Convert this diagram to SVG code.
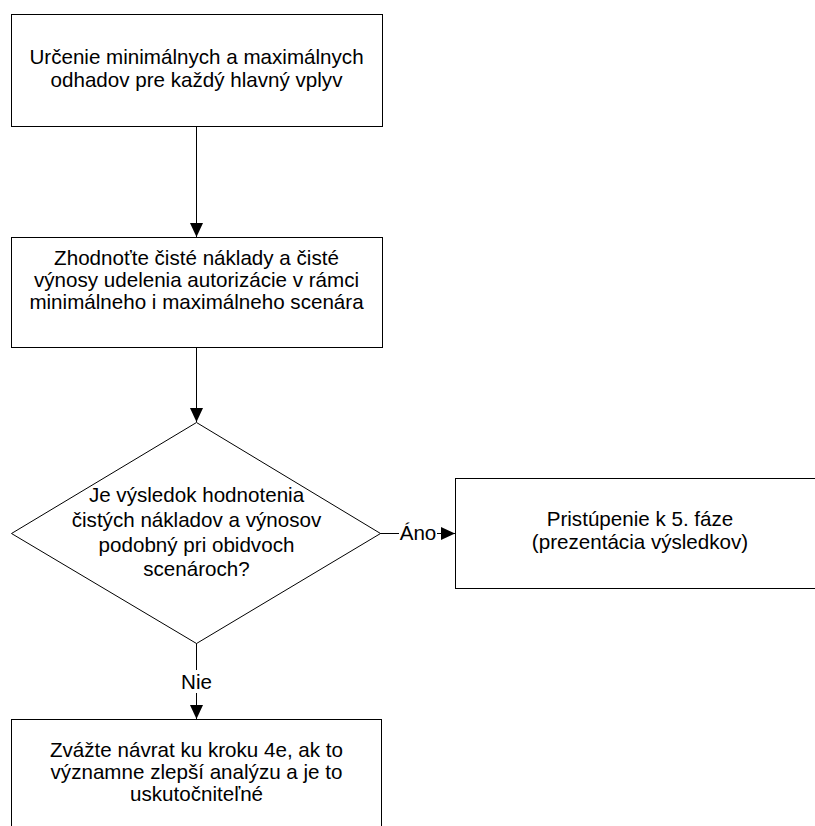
<svg xmlns="http://www.w3.org/2000/svg" width="815" height="826" viewBox="0 0 815 826">
  <style>
    .shape { fill: #ffffff; stroke: #000000; stroke-width: 1; }
    .edge { fill: none; stroke: #000000; stroke-width: 1; }
    text { font-family: "Liberation Sans", Arial, sans-serif; font-size: 20.6px; fill: #000000; text-anchor: middle; }
  </style>
  <defs>
    <marker id="arrow" viewBox="0 0 14 14" refX="14" refY="7" markerWidth="14" markerHeight="14" markerUnits="userSpaceOnUse" orient="auto">
      <path d="M0,0.5 L14,7 L0,13.5 Z" fill="#000000"/>
    </marker>
  </defs>
  <rect width="815" height="826" fill="#ffffff"/>

  <!-- connectors -->
  <g id="connectors">
    <line class="edge" x1="196.5" y1="126" x2="196.5" y2="237" marker-end="url(#arrow)"/>
    <line class="edge" x1="196.5" y1="347" x2="196.5" y2="422" marker-end="url(#arrow)"/>
    <line class="edge" x1="380" y1="533.5" x2="399" y2="533.5"/>
    <line class="edge" x1="437" y1="533.5" x2="455" y2="533.5" marker-end="url(#arrow)"/>
    <line class="edge" x1="196.5" y1="643" x2="196.5" y2="670"/>
    <line class="edge" x1="196.5" y1="693" x2="196.5" y2="719" marker-end="url(#arrow)"/>
    <text x="418" y="540">Áno</text>
    <text x="196.5" y="689">Nie</text>
  </g>

  <!-- step: estimates -->
  <g id="node-estimates">
    <rect class="shape" x="11.5" y="14.5" width="371" height="112"/>
    <text x="196.5" y="64">Určenie minimálnych a maximálnych</text>
    <text x="196.5" y="87">odhadov pre každý hlavný vplyv</text>
  </g>

  <!-- step: evaluate -->
  <g id="node-evaluate">
    <rect class="shape" x="11.5" y="237.5" width="371" height="110"/>
    <text x="196.5" y="265">Zhodnoťte čisté náklady a čisté</text>
    <text x="196.5" y="287">výnosy udelenia autorizácie v rámci</text>
    <text x="196.5" y="309">minimálneho i maximálneho scenára</text>
  </g>

  <!-- decision -->
  <g id="node-decision">
    <polygon class="shape" points="196.5,422.5 380.5,533.5 196.5,643.5 11.5,533.5"/>
    <text x="196.5" y="502">Je výsledok hodnotenia</text>
    <text x="196.5" y="527">čistých nákladov a výnosov</text>
    <text x="196.5" y="552">podobný pri obidvoch</text>
    <text x="196.5" y="576">scenároch?</text>
  </g>

  <!-- step: phase 5 -->
  <g id="node-phase5">
    <rect class="shape" x="455.5" y="478.5" width="371" height="110"/>
    <text x="640" y="526">Pristúpenie k 5. fáze</text>
    <text x="640" y="549">(prezentácia výsledkov)</text>
  </g>

  <!-- step: revisit -->
  <g id="node-revisit">
    <rect class="shape" x="11.5" y="719.5" width="370" height="112"/>
    <text x="196.5" y="757">Zvážte návrat ku kroku 4e, ak to</text>
    <text x="196.5" y="779">významne zlepší analýzu a je to</text>
    <text x="196.5" y="801">uskutočniteľné</text>
  </g>
</svg>
